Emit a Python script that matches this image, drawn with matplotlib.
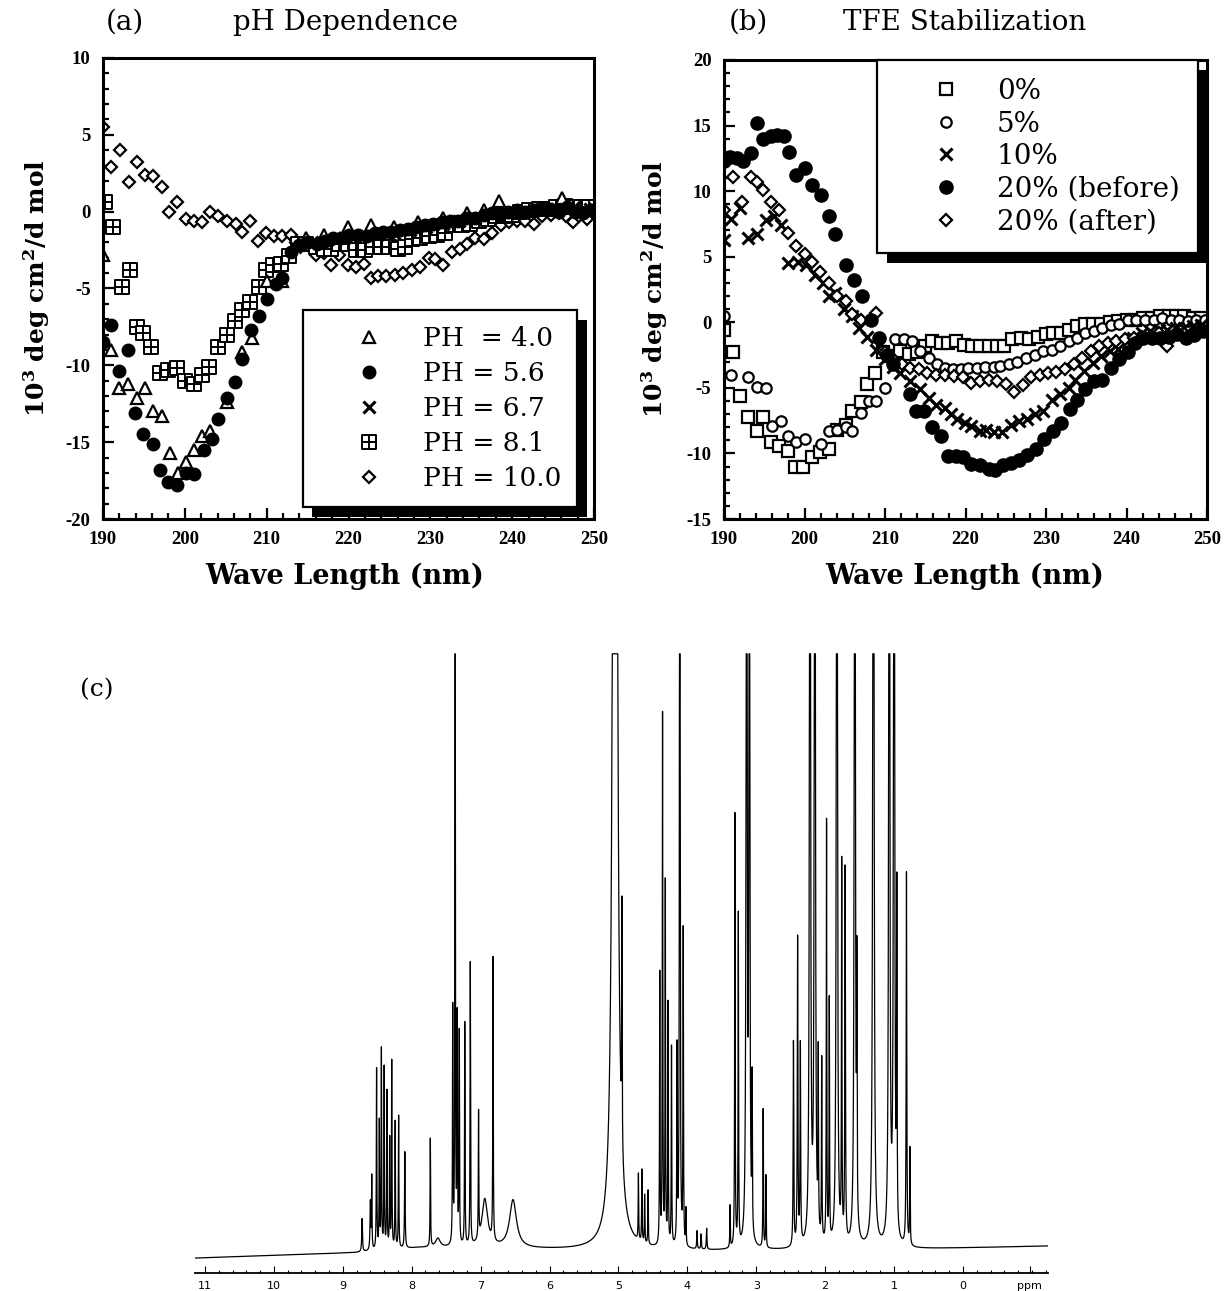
import numpy as np
import matplotlib
matplotlib.use('Agg')
import matplotlib.pyplot as plt
import matplotlib.patheffects as pe
from matplotlib.path import Path
from matplotlib.ticker import MultipleLocator

plt.rcParams['font.family'] = 'DejaVu Serif'
plt.rcParams['mathtext.fontset'] = 'dejavuserif'
plt.rcParams['axes.unicode_minus'] = False

# ---------------- (a) pH dependence ----------------
ph40_wl = [190.0, 191.0, 192.0, 193.1, 194.1, 195.1, 196.1, 197.2, 198.2, 199.2,
           200.2, 201.1, 202.1, 203.1, 205.1, 207.0, 208.2, 210.1, 211.9, 214.8,
           217.0, 219.9, 222.8, 225.5, 228.5, 231.5, 234.5, 236.5, 238.4, 240.5,
           242.5, 244.5, 246.1, 248.0, 249.5]
ph40_val = [-2.8, -9.0, -11.5, -11.2, -12.1, -11.5, -13.0, -13.3, -15.7, -17.0,
            -16.3, -15.5, -14.6, -14.3, -12.4, -9.1, -8.2, -4.5, -4.5, -1.7,
            -1.5, -1.0, -0.9, -1.0, -0.7, -0.4, -0.1, 0.1, 0.7, 0.0,
            0.1, 0.2, 0.9, 0.1, 0.2]

ph56_wl = [190.0, 191.0, 192.0, 193.1, 193.9, 194.9, 196.1, 197.0, 198.0, 199.1,
           200.2, 201.1, 202.3, 203.3, 204.1, 205.1, 206.1, 207.0, 208.1, 209.1,
           210.1, 211.1, 211.9,
           213.0, 214.0, 215.0, 216.1, 217.1, 218.1, 219.1, 220.1, 221.2, 222.2,
           223.2, 224.2, 225.2, 226.3, 227.3, 228.3, 229.3, 230.3, 231.4, 232.4,
           233.4, 234.4, 235.4, 236.5, 237.5, 238.5, 239.5, 240.6, 241.6, 242.6,
           243.6, 244.6, 245.7, 246.7, 247.7, 248.7, 249.7]
ph56_val = [-8.5, -7.4, -10.4, -9.0, -13.1, -14.5, -15.1, -16.8, -17.6, -17.8,
            -17.0, -17.1, -15.5, -14.8, -13.5, -12.1, -11.1, -9.6, -7.7, -6.8,
            -5.7, -4.7, -4.3,
            -2.6, -2.2, -2.0, -2.1, -1.9, -1.7, -1.7, -1.5, -1.5, -1.6,
            -1.4, -1.3, -1.3, -1.2, -1.1, -1.0, -0.9, -0.8, -0.7, -0.6,
            -0.6, -0.4, -0.4, -0.2, -0.1, -0.2, 0.0, 0.1, 0.0, 0.1,
            0.2, 0.2, 0.0, 0.3, 0.0, -0.1, 0.1]

ph67_wl = [213.5, 215.5, 217.5, 219.5, 221.5, 223.5, 225.5, 227.5, 229.5, 231.5,
           233.5, 235.5, 237.5, 239.5, 241.5, 243.5, 245.5, 247.5, 249.5]
ph67_val = [-2.3, -2.0, -1.8, -1.7, -1.6, -1.5, -1.4, -1.2, -1.0, -0.8,
            -0.6, -0.4, -0.2, -0.1, 0.0, 0.2, 0.2, 0.3, 0.2]

ph81_wl = [190.2, 191.2, 192.3, 193.3, 194.1, 194.9, 195.9, 197.0, 198.0, 199.1,
           200.0, 201.1, 202.1, 203.0, 204.1, 205.1, 206.1, 207.0, 208.0, 209.1,
           209.9, 210.8, 211.7, 212.7, 213.8, 214.8, 216.0, 217.0, 217.9, 218.9,
           219.9, 220.9, 222.0, 223.0, 224.0, 225.0, 226.1, 226.9, 227.7, 228.7,
           229.8, 230.8, 231.8, 232.8, 233.9, 234.9, 235.9, 237.0, 238.0, 239.0,
           240.0, 241.0, 242.0, 243.3, 244.3, 245.3, 246.4, 247.4, 248.4, 249.4]
ph81_val = [0.6, -1.0, -4.9, -3.8, -7.5, -7.9, -8.8, -10.5, -10.3, -10.2,
            -11.0, -11.2, -10.6, -10.1, -8.8, -8.0, -7.1, -6.4, -5.9, -4.9,
            -3.8, -3.5, -3.4, -2.9, -2.1, -2.1, -2.3, -2.4, -2.4, -2.1,
            -2.1, -2.5, -2.5, -2.3, -2.3, -2.3, -2.4, -2.3, -1.8, -1.7,
            -1.6, -1.5, -1.4, -0.9, -0.9, -0.8, -0.6, -0.5, -0.3, -0.3,
            -0.2, 0.0, 0.1, 0.2, 0.2, 0.3, 0.4, 0.3, 0.3, 0.3]

ph100_wl = [190.0, 191.0, 192.1, 193.2, 194.1, 195.1, 196.1, 197.2, 198.1, 199.1,
            200.2, 201.1, 202.1, 203.1, 204.1, 205.2, 206.2, 207.0, 208.0, 208.9,
            209.9, 210.9, 211.9, 213.0, 215.0, 216.0, 217.0, 217.9, 218.9, 219.9,
            220.9, 221.9, 222.7, 223.6, 224.6, 225.7, 226.7, 227.7, 228.7, 229.8,
            230.6, 231.6, 232.6, 233.6, 234.5, 235.5, 236.5, 237.5, 238.6, 239.6,
            240.6, 241.6, 242.7, 243.7, 244.7, 245.7, 246.6, 247.4, 248.2, 249.2]
ph100_val = [5.5, 2.9, 4.0, 1.9, 3.2, 2.4, 2.3, 1.6, 0.0, 0.6,
             -0.5, -0.6, -0.7, 0.0, -0.3, -0.6, -0.8, -1.3, -0.6, -1.9,
             -1.4, -1.6, -1.6, -1.5, -2.2, -2.8, -2.7, -3.5, -2.8, -3.5,
             -3.6, -3.4, -4.3, -4.2, -4.2, -4.1, -4.0, -3.8, -3.6, -3.0,
             -3.1, -3.5, -2.6, -2.4, -2.1, -1.7, -1.8, -1.4, -0.9, -0.7,
             -0.6, -0.6, -0.8, -0.3, -0.2, -0.1, -0.3, -0.7, -0.3, -0.5]

# ---------------- (b) TFE stabilization ----------------
tfe0_wl = [190.0, 191.1, 192.0, 193.0, 194.1, 194.9, 195.8, 196.8, 197.9, 198.8,
           199.8, 200.9, 201.9, 203.0, 204.0, 205.1, 205.9, 207.0, 207.8, 208.7,
           209.7, 210.8, 211.9, 213.0, 214.0, 215.0, 215.9, 216.9, 217.8, 218.8,
           219.8, 220.8, 221.8, 222.9, 223.9, 224.8, 225.8, 226.9, 227.9, 229.0,
           230.0, 230.9, 231.9, 232.8, 233.8, 234.9, 235.9, 236.8, 237.9, 238.9,
           240.0, 241.0, 242.1, 243.2, 244.2, 245.3, 246.1, 247.2, 248.2, 249.3]
tfe0_val = [-0.6, -2.3, -5.6, -7.2, -8.3, -7.2, -9.1, -9.4, -9.8, -11.0,
            -11.0, -10.3, -9.9, -9.7, -8.2, -7.8, -6.8, -6.1, -4.7, -3.9,
            -2.3, -2.6, -2.2, -2.4, -2.3, -1.8, -1.4, -1.6, -1.6, -1.4,
            -1.7, -1.8, -1.8, -1.8, -1.8, -1.8, -1.3, -1.2, -1.3, -1.1,
            -0.9, -0.8, -0.8, -0.6, -0.3, -0.1, -0.1, -0.1, 0.0, 0.1,
            0.2, 0.2, 0.3, 0.3, 0.5, 0.5, 0.5, 0.5, 0.3, 0.3]

tfe5_wl = [190.0, 190.9, 193.0, 194.1, 195.2, 196.0, 197.1, 197.9, 199.0, 200.0,
           202.1, 203.0, 204.0, 205.1, 205.9, 207.0, 208.0, 208.9, 210.0, 211.2,
           212.3, 213.3, 214.4, 215.5, 216.5, 217.4, 218.4, 219.5, 220.3, 221.4,
           222.4, 223.5, 224.3, 225.4, 226.4, 227.5, 228.6, 229.6, 230.7, 231.7,
           232.8, 233.8, 234.9, 236.0, 237.0, 238.1, 239.1, 240.2, 241.2, 242.3,
           243.4, 244.4, 245.5, 246.5, 247.6, 248.6, 249.7]
tfe5_val = [0.5, -4.0, -4.2, -4.9, -5.0, -7.9, -7.5, -8.7, -9.1, -8.9,
            -9.3, -8.3, -8.2, -8.0, -8.3, -6.9, -6.0, -6.0, -5.0, -1.3,
            -1.3, -1.4, -2.2, -2.7, -3.2, -3.5, -3.6, -3.6, -3.5, -3.5,
            -3.4, -3.4, -3.3, -3.2, -3.0, -2.7, -2.5, -2.2, -2.1, -1.8,
            -1.4, -1.2, -0.8, -0.7, -0.4, -0.2, -0.1, 0.2, 0.2, 0.2,
            0.2, 0.3, 0.2, 0.2, 0.1, 0.2, 0.2]

tfe10_wl = [190.0, 190.9, 192.0, 193.0, 194.1, 195.2, 196.2, 197.1, 197.9, 199.2,
            200.2, 201.3, 202.3, 203.0, 203.8, 204.9, 205.9, 206.8, 207.8, 208.9,
            210.0, 211.0, 211.9, 213.1, 214.4, 215.5, 216.3, 217.4, 218.2, 219.0,
            219.9, 220.7, 221.8, 222.6, 223.5, 224.5, 225.6, 226.7, 227.7, 228.6,
            229.6, 230.7, 231.7, 232.8, 233.6, 234.7, 235.8, 236.8, 237.9, 238.9,
            240.0, 240.8, 241.9, 242.9, 244.0, 245.0, 246.1, 247.2, 248.2, 249.3]
tfe10_val = [6.3, 7.9, 8.7, 6.4, 6.7, 7.8, 8.1, 7.4, 4.5, 4.6,
             4.4, 3.6, 3.0, 2.0, 2.2, 1.0, 0.5, -0.4, -1.1, -2.1,
             -2.8, -3.4, -3.9, -4.5, -5.1, -5.8, -6.3, -6.5, -7.0, -7.4,
             -7.7, -7.9, -8.3, -8.2, -8.4, -8.4, -7.8, -7.5, -7.4, -7.0,
             -6.8, -5.9, -5.5, -5.0, -4.4, -3.7, -3.1, -2.6, -2.2, -2.0,
             -1.4, -1.2, -0.8, -0.7, -0.6, -0.6, -0.4, -0.4, -0.3, -0.2]

tfe20b_wl = [190.0, 190.7, 191.6, 192.4, 193.3, 194.1, 194.9, 195.8, 196.6, 197.5,
             198.1, 199.0, 200.0, 200.9, 202.1, 203.0, 203.8, 205.1, 206.2, 207.2,
             208.3, 209.3, 210.2, 211.0, 213.1, 213.8, 214.8, 215.9, 216.9, 217.8,
             218.8, 219.7, 220.7, 221.8, 222.9, 223.7, 224.6, 225.6, 226.7, 227.7,
             228.8, 229.8, 230.9, 231.9, 233.0, 233.8, 234.9, 236.0, 237.0, 238.1,
             239.1, 240.2, 241.0, 242.1, 243.2, 244.2, 245.3, 246.3, 247.4, 248.4,
             249.5]
tfe20b_val = [12.3, 12.6, 12.5, 12.3, 12.9, 15.2, 14.0, 14.2, 14.3, 14.2,
              13.0, 11.2, 11.8, 10.5, 9.7, 8.1, 6.7, 4.4, 3.2, 2.0,
              0.2, -1.2, -2.5, -3.2, -5.5, -6.8, -6.8, -8.0, -8.7, -10.2,
              -10.2, -10.3, -10.8, -10.9, -11.2, -11.3, -10.9, -10.7, -10.5, -10.1,
              -9.7, -8.9, -8.3, -7.7, -6.6, -5.9, -5.1, -4.5, -4.4, -3.5,
              -2.8, -2.3, -1.6, -1.2, -1.2, -1.2, -1.1, -0.9, -1.2, -1.0,
              -0.7]

tfe20a_wl = [190.0, 191.1, 192.2, 193.3, 194.1, 194.9, 195.8, 196.8, 197.9, 199.0,
             200.0, 200.9, 201.9, 203.0, 204.0, 205.1, 205.9, 207.0, 208.9, 210.0,
             211.0, 212.1, 213.1, 214.2, 215.2, 216.3, 217.4, 218.6, 219.7, 220.7,
             221.8, 222.9, 223.9, 225.0, 226.0, 227.1, 228.1, 229.2, 230.3, 231.3,
             232.4, 233.5, 234.5, 235.6, 236.6, 237.7, 238.7, 239.8, 240.9, 241.9,
             242.9, 244.0, 245.0, 246.1, 247.2, 248.2, 249.3]
tfe20a_val = [8.6, 11.1, 9.2, 11.1, 10.7, 10.1, 9.2, 8.6, 6.8, 5.8,
              5.2, 4.6, 3.8, 3.0, 2.0, 1.6, 0.6, 0.2, 0.7, -2.3,
              -2.8, -3.2, -3.5, -3.6, -3.9, -4.0, -4.0, -4.1, -4.2, -4.6,
              -4.5, -4.4, -4.5, -4.7, -5.3, -4.8, -4.2, -4.0, -3.9, -3.8,
              -3.6, -3.2, -2.7, -2.2, -1.8, -1.6, -1.4, -1.3, -1.2, -1.1,
              -1.1, -0.8, -1.8, -0.8, -0.9, -0.8, -0.6]

# ---------------- (c) 1H NMR peak list (ppm, height, half width) ----------------
nmr_ppm = [8.72, 8.60, 8.58, 8.51, 8.47, 8.44, 8.40, 8.36, 8.32, 8.29, 8.24, 8.19, 8.10,
           7.73, 7.62, 7.405, 7.37, 7.34, 7.31, 7.23, 7.15, 7.03, 6.94, 6.82, 6.53,
           5.05, 4.95, 4.71, 4.66, 4.62, 4.57,
           4.40, 4.36, 4.32, 4.28, 4.23, 4.15, 4.11, 4.06, 4.02, 3.86, 3.80, 3.72,
           3.38, 3.31, 3.26, 3.14, 3.10, 3.06, 2.90, 2.86,
           2.46, 2.40, 2.36, 2.22, 2.15, 2.10, 2.05, 1.98, 1.94, 1.83, 1.76, 1.71,
           1.57, 1.54, 1.30, 1.07, 1.00, 0.96, 0.82, 0.77]
nmr_height = [5.5, 8, 12, 30, 21, 33, 30, 26, 18, 31, 21, 22, 16,
              18, 1.5, 39, 200, 37, 35, 37, 47, 21, 8, 47, 8,
              600, 40, 11, 12, 8, 9,
              45, 88, 60, 40, 33, 32, 250, 52, 6, 3, 2.5, 3.5,
              7, 72, 55, 250, 180, 25, 23, 12,
              34, 51, 33, 300, 300, 29, 30, 70, 40, 300, 62, 62,
              300, 40, 300, 300, 300, 55, 62, 16]
nmr_width = [0.006, 0.006, 0.004, 0.004, 0.004, 0.004, 0.004, 0.004, 0.004, 0.004, 0.004, 0.004, 0.005,
             0.004, 0.04, 0.004, 0.003, 0.004, 0.004, 0.004, 0.004, 0.004, 0.05, 0.004, 0.06,
             0.018, 0.004, 0.004, 0.004, 0.004, 0.004,
             0.004, 0.004, 0.004, 0.004, 0.004, 0.004, 0.004, 0.004, 0.004, 0.005, 0.005, 0.005,
             0.004, 0.004, 0.004, 0.006, 0.006, 0.004, 0.004, 0.004,
             0.005, 0.005, 0.005, 0.006, 0.006, 0.004, 0.004, 0.004, 0.004, 0.006, 0.004, 0.005,
             0.006, 0.004, 0.007, 0.006, 0.006, 0.004, 0.005, 0.004]
# baseline drift read at a few points
base_ppm = [11.14, 8.8, 7.9, 5.8, 3.6, 0.7, -1.23]
base_val = [-0.5, 0.4, 1.2, 0.9, 0.7, 1.0, 1.5]
nmr_ticks = [11, 10, 9, 8, 7, 6, 5, 4, 3, 2, 1, 0]

W, H = 1230, 1291
fig = plt.figure(figsize=(W / 100, H / 100), dpi=100)


def px_axes(x0, y0, x1, y1):
    return fig.add_axes([x0 / W, 1 - y1 / H, (x1 - x0) / W, (y1 - y0) / H])


def square_plus():
    verts = [(-1, -1), (1, -1), (1, 1), (-1, 1), (-1, -1),
             (0, -1), (0, 1), (-1, 0), (1, 0)]
    codes = [Path.MOVETO, Path.LINETO, Path.LINETO, Path.LINETO, Path.CLOSEPOLY,
             Path.MOVETO, Path.LINETO, Path.MOVETO, Path.LINETO]
    return Path(verts, codes)


def style_cd(ax, ymin, ymax):
    ax.set_xlim(190, 250)
    ax.set_ylim(ymin, ymax)
    ax.xaxis.set_minor_locator(MultipleLocator(2))
    ax.yaxis.set_minor_locator(MultipleLocator(1))
    xt = list(range(190, 251, 10))
    yt = list(range(ymin, ymax + 1, 5))
    ax.set_xticks(xt)
    ax.set_xticklabels([str(v) for v in xt], fontfamily='Liberation Serif',
                       fontweight='bold', fontsize=13.5)
    ax.set_yticks(yt)
    ax.set_yticklabels([str(v) for v in yt], fontfamily='Liberation Serif',
                       fontweight='bold', fontsize=13.5)
    ax.tick_params(which='both', direction='in', top=False, right=False, width=1.6)
    ax.tick_params(which='major', length=8)
    ax.tick_params(axis='x', which='major', pad=9)
    ax.tick_params(axis='y', which='major', pad=9)
    ax.tick_params(which='minor', length=4.5)
    for s in ax.spines.values():
        s.set_linewidth(2.2)
    ax.set_xlabel('Wave Length (nm)', fontsize=19.5, fontweight='bold')
    ax.set_ylabel(r'$\mathbf{10^3\ deg\ cm^2/d\ mol}$', fontsize=18)


def shadow_legend(leg):
    fr = leg.get_frame()
    fr.set_edgecolor('black')
    fr.set_linewidth(1.6)
    fr.set_alpha(1)
    fr.set_path_effects([pe.SimplePatchShadow(offset=(7, -7), shadow_rgbFace='black', alpha=1),
                         pe.Normal()])


open_kw = dict(ls='none', mfc='white', mec='black', mew=1.6)

# ---------- panel (a)
ax1 = px_axes(103, 58, 594, 519)
h_d, = ax1.plot(ph100_wl, ph100_val, marker='D', ms=6.5, **open_kw)
h_s, = ax1.plot(ph81_wl, ph81_val, marker=square_plus(), ms=10, ls='none',
                mfc='white', mec='black', mew=1.4)
h_x, = ax1.plot(ph67_wl, ph67_val, marker='x', ms=8, ls='none', color='black', mew=2.2)
h_t, = ax1.plot(ph40_wl, ph40_val, marker='^', ms=9, **open_kw)
h_c, = ax1.plot(ph56_wl, ph56_val, marker='o', ms=9, ls='none', color='black')
style_cd(ax1, -20, 10)
ax1.xaxis.set_label_coords(0.493, -0.095)
ax1.yaxis.set_label_coords(-0.104, 0.5)
leg1 = ax1.legend([h_t, h_c, h_x, h_s, h_d],
                  ['PH  = 4.0', 'PH = 5.6', 'PH = 6.7', 'PH = 8.1', 'PH = 10.0'],
                  loc='lower right', bbox_to_anchor=(0.965, 0.026), borderaxespad=0,
                  fancybox=False, prop={'family': 'DejaVu Serif', 'size': 19},
                  borderpad=0.6, handlelength=3.8, handletextpad=0.15,
                  labelspacing=0.38, numpoints=1)
shadow_legend(leg1)

# ---------- panel (b)
ax2 = px_axes(724, 60, 1207, 519)
g0, = ax2.plot(tfe0_wl, tfe0_val, marker='s', ms=8.5, **open_kw)
g5, = ax2.plot(tfe5_wl, tfe5_val, marker='o', ms=7.5, **open_kw)
g10, = ax2.plot(tfe10_wl, tfe10_val, marker='x', ms=8, ls='none', color='black', mew=2.2)
g20a, = ax2.plot(tfe20a_wl, tfe20a_val, marker='D', ms=6.5, **open_kw)
g20b, = ax2.plot(tfe20b_wl, tfe20b_val, marker='o', ms=9.5, ls='none', color='black')
style_cd(ax2, -15, 20)
ax2.xaxis.set_label_coords(0.499, -0.095)
ax2.yaxis.set_label_coords(-0.112, 0.5)
leg2 = ax2.legend([g0, g5, g10, g20b, g20a],
                  ['0%', '5%', '10%', '20% (before)', '20% (after)'],
                  loc='upper right', bbox_to_anchor=(0.981, 1.0), borderaxespad=0,
                  fancybox=False, prop={'family': 'DejaVu Serif', 'size': 20},
                  borderpad=0.65, handlelength=3.6, handletextpad=0.05,
                  labelspacing=0.2, numpoints=1)
shadow_legend(leg2)

fig.text(125 / W, 1 - 22 / H, '(a)', fontsize=20, ha='center', va='center')
fig.text(345 / W, 1 - 22 / H, 'pH Dependence', fontsize=20, ha='center', va='center')
fig.text(748 / W, 1 - 22 / H, '(b)', fontsize=20, ha='center', va='center')
fig.text(965 / W, 1 - 22 / H, 'TFE Stabilization', fontsize=20, ha='center', va='center')

# ---------- panel (c)
ax3 = px_axes(195, 652, 1048, 1273)
grid = np.linspace(11.145, -1.234, 40000)
spec = np.interp(-grid, -np.array(base_ppm), np.array(base_val))
for p, h, w in zip(nmr_ppm, nmr_height, nmr_width):
    spec += h * w ** 2 / ((grid - p) ** 2 + w ** 2)
spec = np.minimum(spec, 100)
ax3.plot(grid, spec, color='black', lw=0.9)
ax3.set_xlim(11.145, -1.234)
ax3.set_ylim(-2.98, 100.3)
for side in ['top', 'left', 'right']:
    ax3.spines[side].set_visible(False)
ax3.spines['bottom'].set_linewidth(1.3)
ax3.set_yticks([])
ax3.set_xticks(nmr_ticks + [-0.97])
ax3.set_xticklabels([str(v) for v in nmr_ticks] + ['ppm'], fontsize=8,
                    fontfamily='DejaVu Sans')
ax3.xaxis.set_minor_locator(MultipleLocator(0.2))
ax3.tick_params(axis='x', which='both', direction='in', width=0.8, pad=6)
ax3.tick_params(axis='x', which='major', length=5)
ax3.tick_params(axis='x', which='minor', length=2.5)
fig.text(97 / W, 1 - 690 / H, '(c)', fontsize=18, ha='center', va='center')

fig.savefig('out.png', dpi=100)
